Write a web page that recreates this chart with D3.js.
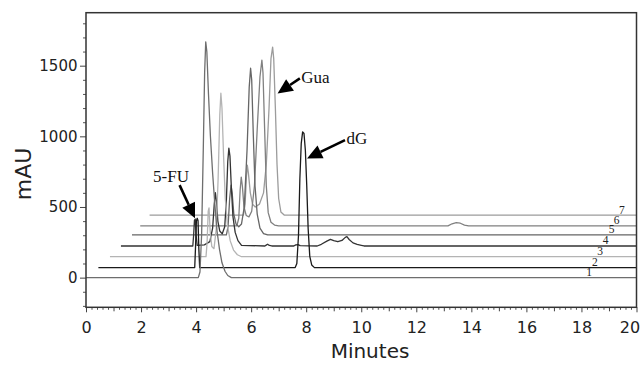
<!DOCTYPE html>
<html><head><meta charset="utf-8">
<script src="https://cdn.jsdelivr.net/npm/d3@7"></script>
<style>html,body{margin:0;padding:0;background:#fff;} svg{display:block;}</style>
</head><body>
<svg id="chart" width="640" height="365"></svg>
<script>
// ---------- data ----------
const xTickValues = [0, 2, 4, 6, 8, 10, 12, 14, 16, 18, 20];
const yTickValues = [0, 500, 1000, 1500];
const traceNames = ["1", "2", "3", "4", "5", "6", "7"];
const traceBaselines = [0, 71, 148, 224, 302, 366, 443];
const labelMinutes = [18.28, 18.49, 18.68, 18.88, 19.1, 19.28, 19.47];

const trace1 = [[0,0],[4.08,0],[4.14,40],[4.2,300],[4.26,900],[4.31,1450],[4.35,1669],[4.39,1600],[4.45,1300],[4.52,1000],[4.6,740],[4.68,520],[4.76,330],[4.85,200],[4.94,105],[5.05,45],[5.15,15],[5.28,0],[20,0]];
const trace2 = [[0.45,71],[3.95,71],[3.98,220],[4.01,400],[4.04,420],[4.07,405],[4.1,200],[4.13,71],[7.6,71],[7.66,100],[7.72,300],[7.77,700],[7.82,950],[7.87,1032],[7.92,1020],[7.97,900],[8.02,650],[8.07,350],[8.13,150],[8.2,90],[8.3,71],[20,71]];
const trace3 = [[0.87,148],[4.36,148],[4.4,250],[4.44,470],[4.47,493],[4.51,330],[4.57,220],[4.65,205],[4.73,340],[4.8,700],[4.86,1150],[4.9,1305],[4.94,1200],[5.0,850],[5.06,560],[5.14,370],[5.24,260],[5.36,195],[5.5,162],[5.65,148],[20,148]];
const trace4 = [[1.27,224],[3.88,224],[3.91,300],[3.94,405],[3.97,415],[4.0,300],[4.04,228],[4.3,232],[4.5,255],[4.6,350],[4.66,520],[4.7,601],[4.74,540],[4.79,400],[4.86,330],[4.95,310],[5.04,360],[5.1,550],[5.15,820],[5.19,916],[5.23,860],[5.28,640],[5.34,430],[5.42,320],[5.52,262],[5.65,228],[6.5,224],[6.56,232],[6.6,236],[6.66,228],[6.75,224],[7.55,224],[7.62,232],[7.7,234],[7.78,226],[8.4,224],[8.55,236],[8.75,258],[8.88,271],[9.0,262],[9.15,254],[9.3,263],[9.42,285],[9.48,290],[9.56,270],[9.7,246],[9.85,236],[10.0,229],[10.1,224],[20,224]];
const trace5 = [[1.67,302],[5.1,302],[5.16,360],[5.22,560],[5.27,654],[5.31,600],[5.37,450],[5.45,380],[5.55,360],[5.65,380],[5.75,500],[5.85,900],[5.93,1350],[5.98,1482],[6.02,1400],[6.08,1000],[6.14,650],[6.22,450],[6.32,350],[6.45,312],[6.6,302],[20,302]];
const trace6 = [[1.97,366],[5.48,366],[5.55,420],[5.6,620],[5.64,711],[5.68,650],[5.74,500],[5.82,440],[5.92,430],[6.02,470],[6.12,650],[6.22,1050],[6.32,1420],[6.39,1540],[6.43,1450],[6.49,1050],[6.55,650],[6.62,460],[6.72,392],[6.85,372],[7.0,366],[13.15,366],[13.3,381],[13.45,389],[13.6,385],[13.75,372],[13.9,366],[20,366]];
const trace7 = [[2.31,443],[5.72,443],[5.78,520],[5.83,720],[5.86,796],[5.9,740],[5.97,600],[6.05,520],[6.15,500],[6.3,520],[6.45,600],[6.55,800],[6.65,1200],[6.72,1550],[6.78,1632],[6.82,1550],[6.88,1200],[6.94,800],[7.0,560],[7.08,465],[7.2,443],[20,443]];
const traces = [trace1, trace2, trace3, trace4, trace5, trace6, trace7];

const annotationTexts = ["5-FU", "Gua", "dG"];
const annotationTextAt = [[3.09, 677], [7.82, 1374], [9.46, 949]];
const arrowTails = [[3.40, 655], [7.77, 1410], [9.41, 973]];
const arrowTips = [[3.96, 420], [6.96, 1304], [8.03, 844]];

// ---------- styles ----------
const traceColors = ["#6e6e6e", "#1a1a1a", "#b4b4b4", "#333333", "#666666", "#808080", "#9c9c9c"];
const sans = "'DejaVu Sans', sans-serif";
const serif = "'Liberation Serif', 'Times New Roman', serif";

// ---------- chart ----------
const svg = d3.select("#chart");
const x = d3.scaleLinear().domain([0, 20]).range([86, 636.5]);
const y = d3.scaleLinear().domain([-210, 1875]).range([307.3, 12.7]);

svg.append("rect").attr("width", 640).attr("height", 365).attr("fill", "#fff");

// minor ticks
const yMinor = d3.range(-200, 1875, 100).filter(v => v % 500 !== 0);
svg.append("g").attr("transform", `translate(${x(0)},0)`)
  .call(d3.axisLeft(y).tickValues(yMinor).tickSize(3).tickFormat("").tickSizeOuter(0))
  .call(g => g.select(".domain").remove())
  .call(g => g.selectAll("line").attr("stroke", "#555"));
const xMinor = d3.range(0, 100).map(i => i * 0.2).filter(v => Math.abs(v - Math.round(v)) > 1e-6);
svg.append("g").attr("transform", `translate(0,${y(-210)})`)
  .call(d3.axisBottom(x).tickValues(xMinor).tickSize(2.5).tickFormat("").tickSizeOuter(0))
  .call(g => g.select(".domain").remove())
  .call(g => g.selectAll("line").attr("stroke", "#555"));
const xOdd = d3.range(1, 20, 2);
svg.append("g").attr("transform", `translate(0,${y(-210)})`)
  .call(d3.axisBottom(x).tickValues(xOdd).tickSize(4).tickFormat("").tickSizeOuter(0))
  .call(g => g.select(".domain").remove())
  .call(g => g.selectAll("line").attr("stroke", "#444"));

// major axes
svg.append("g").attr("transform", `translate(${x(0)},0)`)
  .call(d3.axisLeft(y).tickValues(yTickValues).tickFormat(d3.format("d")).tickSize(6).tickPadding(2.5).tickSizeOuter(0))
  .call(g => g.select(".domain").remove())
  .call(g => g.selectAll("line").attr("stroke", "#444"))
  .call(g => g.selectAll("text").attr("font-family", sans).attr("font-size", 15).attr("fill", "#222"));
svg.append("g").attr("transform", `translate(0,${y(-210)})`)
  .call(d3.axisBottom(x).tickValues(xTickValues).tickFormat(d3.format("d")).tickSize(5).tickPadding(9.5).tickSizeOuter(0))
  .call(g => g.select(".domain").remove())
  .call(g => g.selectAll("line").attr("stroke", "#444"))
  .call(g => g.selectAll("text").attr("font-family", sans).attr("font-size", 16).attr("fill", "#222"))
  .call(g => g.selectAll(".tick").filter(d => d === 20).select("text").attr("text-anchor", "end").attr("dx", "0.2em"));

// traces (back to front)
const line = d3.line().x(d => x(d[0])).y(d => y(d[1]));
for (let i = traces.length - 1; i >= 0; i--) {
  svg.append("path").datum(traces[i])
    .attr("d", line).attr("fill", "none")
    .attr("stroke", traceColors[i]).attr("stroke-width", 1.3)
    .attr("stroke-linejoin", "round");
}

// trace number labels
svg.append("g").selectAll("text").data(traceNames).join("text")
  .attr("x", (d, i) => x(labelMinutes[i]))
  .attr("y", (d, i) => y(traceBaselines[i]) - 1.5)
  .attr("text-anchor", "middle")
  .attr("font-family", serif).attr("font-size", 11.5).attr("fill", "#222")
  .text(d => d);

// frame
svg.append("rect")
  .attr("x", x(0)).attr("y", y(1875))
  .attr("width", x(20) - x(0)).attr("height", y(-210) - y(1875))
  .attr("fill", "none").attr("stroke", "#333").attr("stroke-width", 1.5);

// annotations
const anchors = ["middle", "start", "start"];
annotationTexts.forEach((t, i) => {
  svg.append("text")
    .attr("x", x(annotationTextAt[i][0])).attr("y", y(annotationTextAt[i][1]))
    .attr("text-anchor", anchors[i])
    .attr("font-family", serif).attr("font-size", 17).attr("fill", "#111")
    .text(t);
  const x1 = x(arrowTails[i][0]), y1 = y(arrowTails[i][1]);
  const x2 = x(arrowTips[i][0]), y2 = y(arrowTips[i][1]);
  const ang = Math.atan2(y2 - y1, x2 - x1);
  const hl = 15, hw = 7;
  const bx = x2 - hl * Math.cos(ang), by = y2 - hl * Math.sin(ang);
  svg.append("line").attr("x1", x1).attr("y1", y1).attr("x2", bx).attr("y2", by)
    .attr("stroke", "#000").attr("stroke-width", 2.6);
  const px = -Math.sin(ang), py = Math.cos(ang);
  svg.append("polygon")
    .attr("points", [[x2, y2], [bx + hw * px, by + hw * py], [bx - hw * px, by - hw * py]].map(p => p.join(",")).join(" "))
    .attr("fill", "#000");
});

// axis titles
svg.append("text").attr("x", 370).attr("y", 358).attr("text-anchor", "middle")
  .attr("font-family", sans).attr("font-size", 20).attr("fill", "#222").text("Minutes");
svg.append("text").attr("transform", `translate(31,${(y(-210) + y(1875)) / 2 + 14}) rotate(-90)`)
  .attr("text-anchor", "middle")
  .attr("font-family", sans).attr("font-size", 22).attr("fill", "#222").text("mAU");
</script>
</body></html>
